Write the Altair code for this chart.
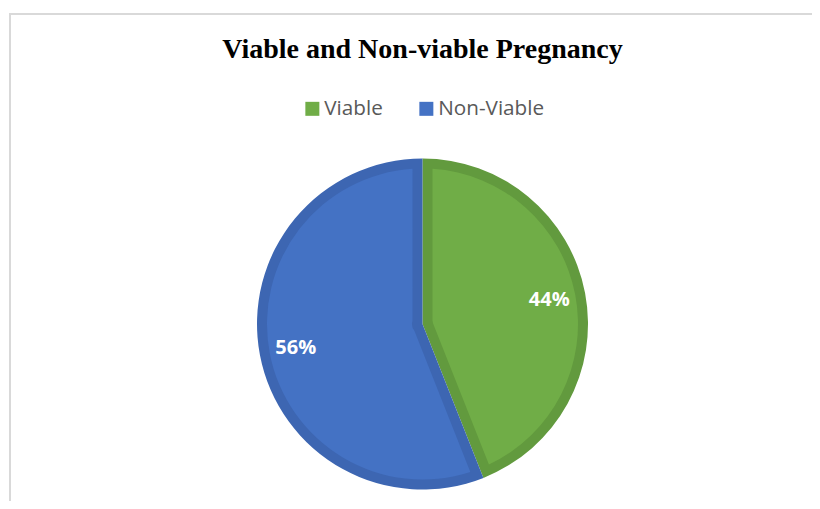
import altair as alt
import pandas as pd

# ---- data ----
categories = ["Viable", "Non-Viable"]
percents = [44, 56]
fill_colors = ["#70AD47", "#4472C4"]
border_colors = ["#629A3E", "#3D66B2"]
title_text = "Viable and Non-viable Pregnancy"

df = pd.DataFrame({
    "category": categories,
    "value": percents,
    "idx": list(range(len(categories))),
})
frame_df = pd.DataFrame({"k": [0]})

base = alt.Chart(df).transform_calculate(
    label="datum.value + '%'"
).encode(
    theta=alt.Theta("value:Q", stack=True),
    order=alt.Order("idx:Q"),
)

frame = alt.Chart(frame_df).mark_rect(
    fill="white", fillOpacity=0, stroke="#D9D9D9", strokeWidth=2
).encode(
    x=alt.value(-42), y=alt.value(-144), x2=alt.value(1000), y2=alt.value(800)
)

outer = base.mark_arc(outerRadius=165.5).encode(
    color=alt.Color("category:N",
                    scale=alt.Scale(domain=categories, range=border_colors),
                    legend=None)
)

inner = base.mark_arc(outerRadius=155.5, innerRadius=10.5, padAngle=0.1285).encode(
    color=alt.Color(
        "category:N",
        scale=alt.Scale(domain=categories, range=fill_colors),
        legend=alt.Legend(
            title=None,
            orient="none",
            direction="horizontal",
            legendX=250,
            legendY=-60,
            padding=0,
            symbolType="square",
            symbolSize=196,
            symbolStrokeWidth=0,
            symbolOpacity=1,
            labelFont="Open Sans",
            labelFontSize=20.7,
            labelColor="#595959",
            labelOffset=1.5,
            columnPadding=33,
        ),
    )
)

labels = base.mark_text(
    radius=129, font="Open Sans", fontSize=20, fontWeight="bold", color="white"
).encode(text="label:N")

chart = alt.layer(frame, outer, inner, labels).resolve_scale(
    color="independent"
).properties(
    width=741,
    height=332,
    background="white",
    autosize=alt.AutoSizeParams(type="none"),
    padding={"left": 44, "top": 150, "right": 19, "bottom": 11},
    title=alt.TitleParams(
        text=title_text,
        font="Liberation Serif",
        fontSize=28,
        fontWeight="bold",
        color="black",
        anchor="middle",
        baseline="alphabetic",
        frame="group",
        offset=0,
        dy=73,
    ),
).configure_view(stroke="transparent", strokeWidth=0)

chart.save("out.html", embed_options={"renderer": "svg", "actions": False})
